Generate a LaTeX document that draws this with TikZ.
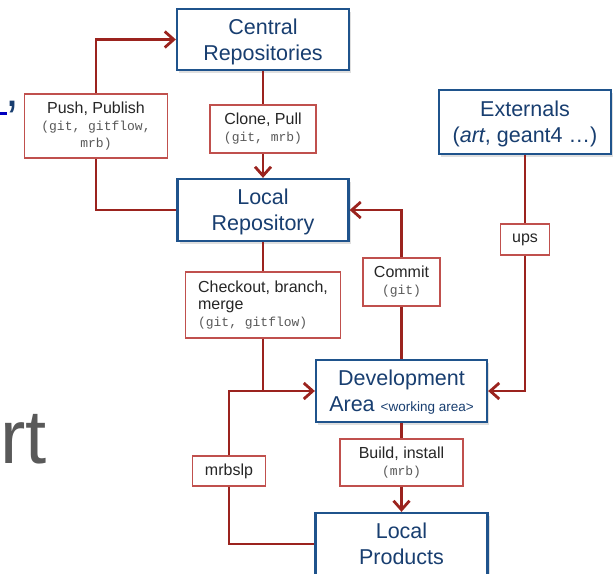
\documentclass[tikz,border=0pt]{standalone}
\usepackage{fontspec}
\setmainfont{Liberation Sans}
\setmonofont{Liberation Mono}
\usetikzlibrary{arrows.meta,shadows}
\definecolor{boxblue}{RGB}{31,83,140}
\definecolor{textblue}{RGB}{24,62,112}
\definecolor{flowred}{RGB}{155,35,30}
\definecolor{tagred}{RGB}{192,80,77}
\newcommand{\cmdtxt}[1]{{\fontsize{13}{17}\selectfont\ttfamily\color{black!65}#1}}
\tikzset{
  place/.style={draw=boxblue,line width=2.3pt,fill=white,text=textblue,align=center,
    font=\fontsize{21.5}{26}\selectfont,inner sep=0pt,text depth=-5pt,
    drop shadow={opacity=0.25,shadow xshift=2pt,shadow yshift=-2.5pt}},
  tag/.style={draw=tagred,line width=1.1pt,fill=white,text=black!85,align=center,
    font=\fontsize{16}{17}\selectfont,inner sep=0pt},
  flow/.style={flowred,line width=2.8pt},
  into/.style={flow,-{Straight Barb[length=9pt,width=16pt]}},
}

\begin{document}
\begin{tikzpicture}[x=1pt,y=-1pt]
  \clip (0,0) rectangle (615,573);
  % ---------------- leftovers of the slide ----------------
  \fill[blue!75!black] (0,111.5) rectangle (7,114.5);
  \node[anchor=base west,inner sep=0pt,text=textblue,font=\fontsize{50}{50}\selectfont] (comma) at (5,106) {,};
  \node[anchor=base west,inner sep=0pt,text=black!65,font=\fontsize{76}{76}\selectfont] (rt) at (0,463) {rt};
  % ---------------- areas ----------------
  \node[place,minimum width=172pt,minimum height=61pt] (central) at (263,39.5) {Central\\Repositories};
  \node[place,minimum width=171pt,minimum height=62pt] (localrepo) at (263,210) {Local\\Repository};
  \node[place,minimum width=172pt,minimum height=64pt] (ext) at (525,122) {Externals\\(\textit{art}, geant4 …)};
  \node[place,minimum width=171pt,minimum height=62pt] (dev) at (401.5,391)
    {Development\\Area {\fontsize{13.5}{26}\selectfont<working area>}};
  \node[place,minimum width=172pt,minimum height=62pt] (prod) at (401.5,544) {Local\\Products};
  % ---------------- tools ----------------
  \node[tag,minimum width=143pt,minimum height=64pt] (push) at (96,126)
    {Push, Publish\\\cmdtxt{(git, gitflow,}\\\cmdtxt{mrb)}};
  \node[tag,minimum width=106pt,minimum height=48pt] (clone) at (263,129) {Clone, Pull\\\cmdtxt{(git, mrb)}};
  \node[tag,align=left,minimum width=155pt,minimum height=66pt] (checkout) at (263,305)
    {Checkout, branch,\\merge\\\cmdtxt{(git, gitflow)}};
  \node[tag,minimum width=77pt,minimum height=48pt] (commit) at (401.5,282) {Commit\\\cmdtxt{(git)}};
  \node[tag,minimum width=49pt,minimum height=31pt] (ups) at (525,239.5) {ups};
  \node[tag,minimum width=123pt,minimum height=47pt] (build) at (401.5,462.5) {Build, install\\\cmdtxt{(mrb)}};
  \node[tag,minimum width=73pt,minimum height=30pt] (mrbslp) at (229,471) {mrbslp};
  \coordinate (join) at (checkout.south |- dev.west);
  % ---------------- flows ----------------
  \draw[flow] (localrepo.west) -| (push.south);
  \draw[into] (push.north) |- (central.west);
  \draw[flow] (central.south) -- (clone.north);
  \draw[into] (clone.south) -- (localrepo.north);
  \draw[flow] (localrepo.south) -- (checkout.north);
  \draw[into] (checkout.south) |- (dev.west);
  \draw[flow] (dev.north) -- (commit.south);
  \draw[into] (commit.north) |- (localrepo.east);
  \draw[flow] (ext.south) -- (ups.north);
  \draw[into] (ups.south) |- (dev.east);
  \draw[flow] (dev.south) -- (build.north);
  \draw[into] (build.south) -- (prod.north);
  \draw[flow] (prod.west) -| (mrbslp.south);
  \draw[flow] (mrbslp.north) |- (join);
\end{tikzpicture}
\end{document}
